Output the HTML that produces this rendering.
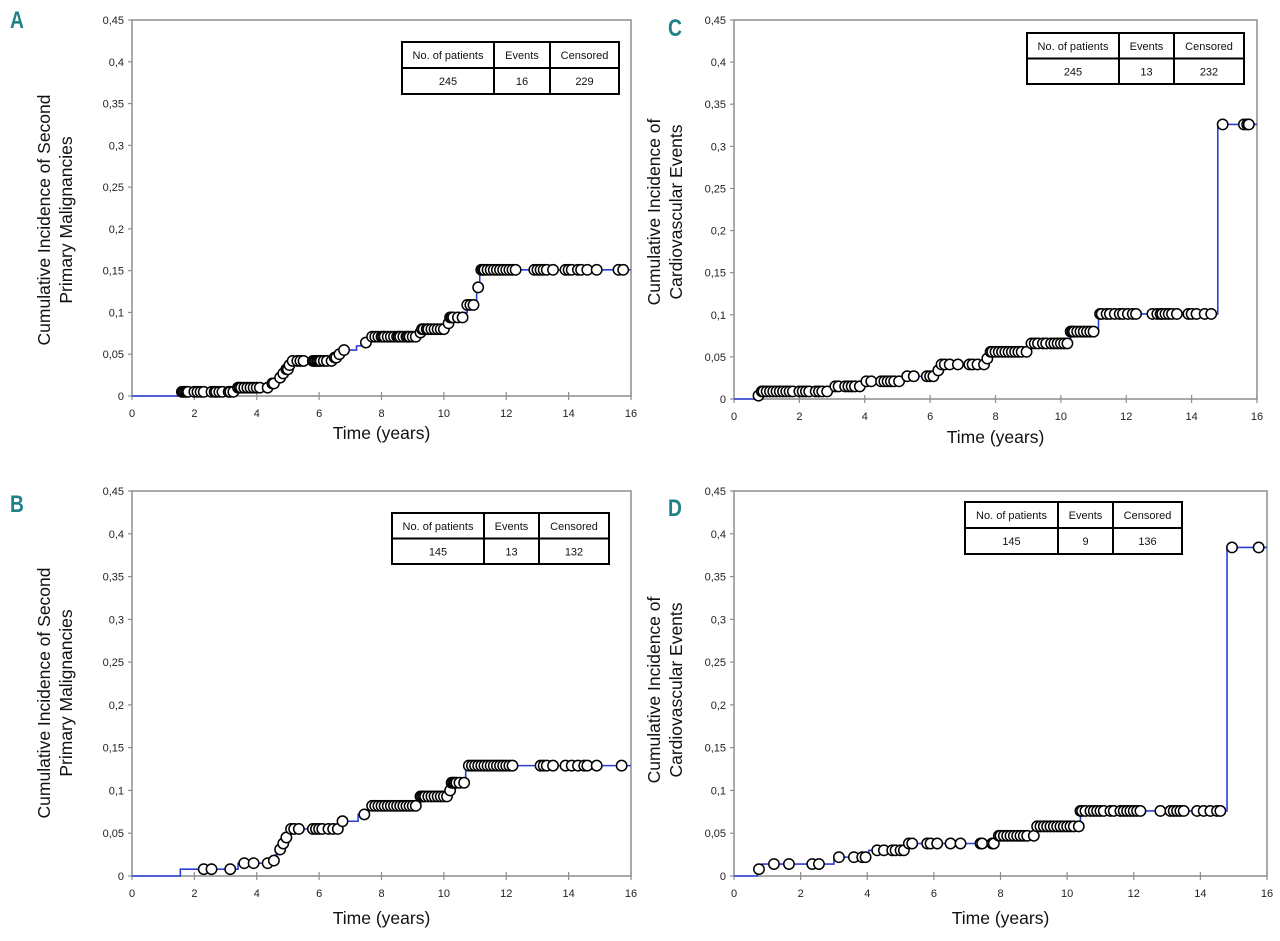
<!DOCTYPE html>
<html><head><meta charset="utf-8">
<style>
html,body{margin:0;padding:0;background:#fff;}
svg{display:block;font-family:"Liberation Sans",Arial,sans-serif;}
</style></head>
<body>
<svg id="chart" width="1280" height="941" viewBox="0 0 1280 941" xmlns="http://www.w3.org/2000/svg"></svg>
<script>
// ---- Data ----
const xTicks = [0,2,4,6,8,10,12,14,16];
const yTicks = [0,0.05,0.1,0.15,0.2,0.25,0.3,0.35,0.4,0.45];
const yTickLabels = ["0","0,05","0,1","0,15","0,2","0,25","0,3","0,35","0,4","0,45"];

const stepTimesA = [1.55,3.35,4.45,4.6,4.75,4.85,4.95,5.05,5.1,6.5,6.6,6.75,7.2,7.45,7.65,9.25,9.3,10.15,10.2,10.7,10.75,11.05,11.15];
const stepValsA  = [0.005,0.010,0.015,0.018,0.022,0.027,0.032,0.037,0.042,0.046,0.050,0.055,0.060,0.064,0.071,0.076,0.080,0.087,0.094,0.100,0.109,0.130,0.151];
const censorA = [1.6,1.65,1.7,1.75,1.8,2.0,2.1,2.2,2.3,2.55,2.65,2.7,2.8,2.9,3.1,3.15,3.25,3.4,3.45,3.5,3.6,3.7,3.8,3.9,4.0,4.1,4.35,4.5,4.55,4.75,4.85,4.95,5.0,5.05,5.15,5.3,5.4,5.5,5.8,5.85,5.9,5.95,6.0,6.05,6.15,6.25,6.4,6.5,6.55,6.65,6.8,7.5,7.7,7.8,7.9,8.0,8.05,8.1,8.2,8.3,8.4,8.5,8.55,8.6,8.7,8.8,8.85,8.9,9.0,9.1,9.25,9.3,9.35,9.45,9.5,9.6,9.7,9.8,9.9,10.0,10.15,10.2,10.25,10.3,10.45,10.6,10.75,10.85,10.95,11.1,11.2,11.25,11.3,11.4,11.5,11.6,11.7,11.8,11.9,12.0,12.1,12.2,12.3,12.9,13.0,13.1,13.2,13.3,13.5,13.9,14.0,14.1,14.3,14.4,14.6,14.9,15.6,15.75];
const tableA = ["245","16","229"];

const stepTimesB = [1.55,3.4,4.45,4.6,4.75,4.85,4.95,5.05,6.65,6.75,7.25,7.6,9.25,10.2,10.25,10.7];
const stepValsB  = [0.008,0.015,0.018,0.025,0.031,0.038,0.045,0.055,0.059,0.064,0.072,0.082,0.093,0.100,0.109,0.129];
const censorB = [2.3,2.55,3.15,3.6,3.9,4.35,4.55,4.75,4.85,4.95,5.1,5.2,5.35,5.8,5.9,6.0,6.1,6.3,6.45,6.6,6.75,7.45,7.7,7.8,7.9,8.0,8.1,8.2,8.3,8.4,8.5,8.6,8.7,8.8,8.9,9.0,9.1,9.25,9.3,9.35,9.4,9.5,9.6,9.7,9.8,9.9,10.0,10.1,10.2,10.25,10.3,10.35,10.4,10.5,10.65,10.8,10.9,11.0,11.1,11.2,11.3,11.4,11.5,11.6,11.7,11.8,11.9,12.0,12.1,12.2,13.1,13.2,13.3,13.5,13.9,14.1,14.3,14.5,14.6,14.9,15.7];
const tableB = ["145","13","132"];

const stepTimesC = [0.7,0.85,3.05,3.95,5.2,6.2,6.3,7.7,7.8,9.05,10.3,11.15,14.8];
const stepValsC  = [0.004,0.009,0.015,0.021,0.027,0.034,0.041,0.048,0.056,0.066,0.080,0.101,0.326];
const censorC = [0.75,0.85,0.9,1.0,1.1,1.2,1.3,1.4,1.5,1.6,1.7,1.8,2.0,2.1,2.2,2.3,2.5,2.6,2.7,2.85,3.1,3.2,3.4,3.5,3.6,3.7,3.85,4.05,4.2,4.5,4.6,4.7,4.8,4.9,5.05,5.3,5.5,5.9,6.0,6.1,6.25,6.35,6.45,6.6,6.85,7.2,7.3,7.45,7.65,7.75,7.85,7.9,8.0,8.1,8.2,8.3,8.4,8.5,8.6,8.7,8.8,8.95,9.1,9.2,9.3,9.45,9.55,9.7,9.8,9.9,10.0,10.1,10.2,10.3,10.35,10.4,10.5,10.6,10.7,10.8,10.9,11.0,11.2,11.25,11.4,11.5,11.65,11.8,11.9,12.05,12.2,12.3,12.8,12.95,13.05,13.1,13.2,13.3,13.4,13.55,13.9,14.0,14.15,14.4,14.6,14.95,15.6,15.7,15.75];
const tableC = ["245","13","232"];

const stepTimesD = [0.7,0.85,3.0,4.05,5.2,7.85,9.05,10.4,14.8];
const stepValsD  = [0.008,0.014,0.022,0.030,0.038,0.047,0.058,0.076,0.384];
const censorD = [0.75,1.2,1.65,2.35,2.55,3.15,3.6,3.85,3.95,4.3,4.5,4.75,4.85,5.0,5.1,5.25,5.35,5.8,5.9,6.1,6.5,6.8,7.4,7.45,7.75,7.8,7.95,8.0,8.1,8.2,8.3,8.4,8.5,8.6,8.7,8.8,9.0,9.1,9.2,9.3,9.4,9.5,9.6,9.7,9.8,9.9,10.0,10.1,10.2,10.35,10.4,10.45,10.55,10.7,10.8,10.9,11.0,11.1,11.3,11.4,11.6,11.7,11.8,11.9,12.0,12.1,12.2,12.8,13.1,13.2,13.3,13.4,13.5,13.9,14.1,14.3,14.5,14.6,14.95,15.75];
const tableD = ["145","9","136"];

const tableHeaders = ["No. of patients","Events","Censored"];

// ---- Drawing ----
const NS = "http://www.w3.org/2000/svg";
const svg = document.getElementById("chart");
function el(tag, attrs, parent){
  const e = document.createElementNS(NS, tag);
  for (const k in attrs) e.setAttribute(k, attrs[k]);
  (parent||svg).appendChild(e);
  return e;
}

function panel(cfg){
  const g = el("g", {});
  
  
  const L=cfg.left, R=cfg.right, T=cfg.top, B=cfg.bottom;
  const xs = t => L + (t/16)*(R-L);
  const ys = v => B - (v/0.45)*(B-T);
  const level = t => { let v=0; for (let i=0;i<cfg.times.length;i++){ if (t>=cfg.times[i]) v=cfg.vals[i]; } return v; };

  const frame = el("rect", {x:L, y:T, width:R-L, height:B-T, fill:"none", stroke:"#8a8f8f", "stroke-width":1.5}, g);
  
  

  yTicks.forEach((v,i)=>{
    const y = ys(v);
    const tk = el("line", {x1:L-4, x2:L, y1:y, y2:y, stroke:"#8a8f8f", "stroke-width":1.2}, g);
    
    
    const lb = el("text", {x:L-8, y:y+4, "text-anchor":"end", "font-size":11, fill:"#222"}, g);
    lb.textContent = yTickLabels[i];
    
    
  });
  xTicks.forEach(t=>{
    const x = xs(t);
    const tk = el("line", {x1:x, x2:x, y1:B-4, y2:B+4, stroke:"#8a8f8f", "stroke-width":1.2}, g);
    
    
    const lb = el("text", {x:x, y:B+21, "text-anchor":"middle", "font-size":11, fill:"#222"}, g);
    lb.textContent = t;
    
    
  });

  let d = "M"+xs(0)+","+ys(0);
  let prev = 0;
  cfg.times.forEach((t,i)=>{ d += " L"+xs(t)+","+ys(prev)+" L"+xs(t)+","+ys(cfg.vals[i]); prev = cfg.vals[i]; });
  d += " L"+xs(16)+","+ys(prev);
  const line = el("path", {d:d, fill:"none", stroke:"#2b3fd6", "stroke-width":1.6}, g);
  
  

  cfg.censor.forEach(t=>{
    const c = el("circle", {cx:xs(t), cy:ys(level(t)), r:5.2, fill:"#fff", stroke:"#000", "stroke-width":1.5}, g);
    
    
  });

  const tb = cfg.table; const tx=[tb.x0,tb.c1,tb.c2,tb.x1]; const tm=(tb.y0+tb.y1)/2;
  const tg = el("g", {}, g);
  
  
  el("rect", {x:tb.x0, y:tb.y0, width:tb.x1-tb.x0, height:tb.y1-tb.y0, fill:"#fff", stroke:"#000", "stroke-width":2}, tg);
  el("line", {x1:tb.x0, x2:tb.x1, y1:tm, y2:tm, stroke:"#000", "stroke-width":2}, tg);
  el("line", {x1:tb.c1, x2:tb.c1, y1:tb.y0, y2:tb.y1, stroke:"#000", "stroke-width":2}, tg);
  el("line", {x1:tb.c2, x2:tb.c2, y1:tb.y0, y2:tb.y1, stroke:"#000", "stroke-width":2}, tg);
  for (let i=0;i<3;i++){
    const cx=(tx[i]+tx[i+1])/2;
    const h = el("text", {x:cx, y:(tb.y0+tm)/2+4, "text-anchor":"middle", "font-size":11, fill:"#111"}, tg);
    h.textContent = tableHeaders[i];
    
    
    const v = el("text", {x:cx, y:(tm+tb.y1)/2+4, "text-anchor":"middle", "font-size":11, fill:"#111"}, tg);
    v.textContent = cfg.tableVals[i];
    
    
  }

  const xt = el("text", {x:(L+R)/2, y:cfg.xTitleY, "text-anchor":"middle", "font-size":17.5, fill:"#111"}, g);
  xt.textContent = "Time (years)";
  
  
  cfg.yTitle.forEach((s,i)=>{
    const x = cfg.yTitleX + i*22; const y = cfg.yTitleY;
    const yt = el("text", {x:x, y:y, "text-anchor":"middle", "font-size":17.5, fill:"#111", transform:"rotate(-90 "+x+" "+y+")"}, g);
    yt.textContent = s;
    
    
  });
  const lt = el("text", {x:cfg.labelX/0.8, y:cfg.labelY, "font-size":24, "font-weight":"bold", fill:"#1f8088", transform:"scale(0.8,1)"}, g);
  lt.textContent = cfg.letter;
  
  
}

panel({letter:"A", left:132, right:631, top:20, bottom:396, times:stepTimesA, vals:stepValsA, censor:censorA,
  table:{x0:402,c1:494,c2:550,x1:619,y0:42,y1:94}, tableVals:tableA, xTitleY:439,
  yTitle:["Cumulative Incidence of Second","Primary  Malignancies"], yTitleX:50, yTitleY:220, labelX:10, labelY:28});
panel({letter:"C", left:734, right:1257, top:20, bottom:399, times:stepTimesC, vals:stepValsC, censor:censorC,
  table:{x0:1027,c1:1119,c2:1174,x1:1244,y0:33,y1:84}, tableVals:tableC, xTitleY:443,
  yTitle:["Cumulative Incidence of","Cardiovascular Events"], yTitleX:660, yTitleY:212, labelX:668, labelY:36});
panel({letter:"B", left:132, right:631, top:491, bottom:876, times:stepTimesB, vals:stepValsB, censor:censorB,
  table:{x0:392,c1:484,c2:539,x1:609,y0:513,y1:564}, tableVals:tableB, xTitleY:924,
  yTitle:["Cumulative Incidence of Second","Primary  Malignancies"], yTitleX:50, yTitleY:693, labelX:10, labelY:512});
panel({letter:"D", left:734, right:1267, top:491, bottom:876, times:stepTimesD, vals:stepValsD, censor:censorD,
  table:{x0:965,c1:1058,c2:1113,x1:1182,y0:502,y1:554}, tableVals:tableD, xTitleY:924,
  yTitle:["Cumulative Incidence of","Cardiovascular Events"], yTitleX:660, yTitleY:690, labelX:668, labelY:516});
</script>
</body></html>
